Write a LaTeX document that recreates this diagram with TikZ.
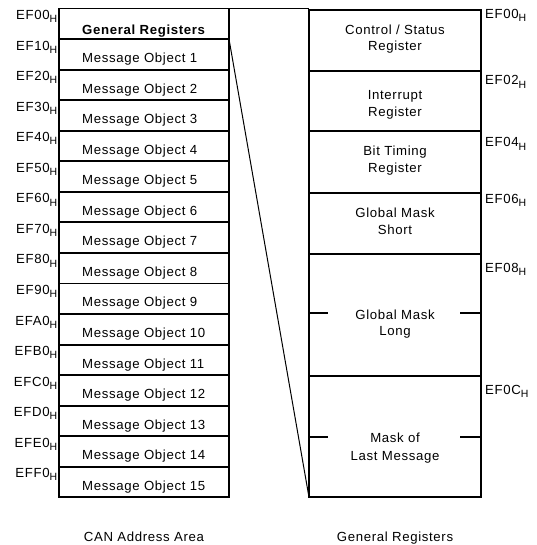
\documentclass[tikz,border=0pt]{standalone}
\usepackage{fontspec}
\setmainfont{Liberation Sans}[LetterSpace=5]
\newcommand\hsub{\raisebox{-3.2pt}{\fontsize{10.5}{10}\selectfont H}}
\begin{document}
\begin{tikzpicture}[x=1pt,y=-1pt,
  cell/.style={draw, line width=1.9pt, minimum width=170pt, minimum height=30.55pt, inner sep=0pt, outer sep=0pt, anchor=north west},
  rcell/.style={draw, line width=1.9pt, minimum width=172pt, inner sep=0pt, outer sep=0pt, anchor=north west},
  txt/.style={inner sep=0pt, font=\fontsize{13.2}{15}\selectfont},
  celltext/.style={txt, anchor=base west},
  ctext/.style={txt, anchor=base},
  addrL/.style={txt, anchor=base east},
  addrR/.style={txt, anchor=base west},
  funnel/.style={line width=1pt},
  tick/.style={line width=1.4pt}
]
\useasboundingbox (0,0) rectangle (536,545);
% left column
\foreach \i/\h in {0/0,1/1,2/2,3/3,4/4,5/5,6/6,7/7,8/8,9/9,10/A,11/B,12/C,13/D,14/E,15/F}{
  \node[cell] (L\i) at (59,{8.5+30.55*\i}) {};
  \node[addrL] (A\i) at (57.5,{8.5+30.55*\i+11}) {EF\h0\hsub};
}
\node[celltext] (T0) at (82,35) {\bfseries General Registers};
\foreach \i in {1,...,15}{
  \node[celltext] (T\i) at (82,{8.5+30.55*\i+23.5}) {Message Object \i};
}
% right column
\node[rcell, minimum height=61pt] (R0) at (309,10) {};
\node[rcell, minimum height=60pt] (R1) at (309,71) {};
\node[rcell, minimum height=61.7pt] (R2) at (309,131) {};
\node[rcell, minimum height=61.6pt] (R3) at (309,192.7) {};
\node[rcell, minimum height=121.7pt] (R4) at (309,254.3) {};
\node[rcell, minimum height=121.3pt] (R5) at (309,376) {};
% right texts
\node[ctext] (r0a) at (395,34.3) {Control / Status};
\node[ctext] (r0b) at (395,50.5) {Register};
\node[ctext] (r1a) at (395,100) {Interrupt};
\node[ctext] (r1b) at (395,116.5) {Register};
\node[ctext] (r2a) at (395,155.5) {Bit Timing};
\node[ctext] (r2b) at (395,172.5) {Register};
\node[ctext] (r3a) at (395,217.3) {Global Mask};
\node[ctext] (r3b) at (395,234) {Short};
\node[ctext] (r4a) at (395,319) {Global Mask};
\node[ctext] (r4b) at (395,335.5) {Long};
\node[ctext] (r5a) at (395,442.7) {Mask of};
\node[ctext] (r5b) at (395,460) {Last Message};
% right addresses
\node[addrR] (B0) at (485,18.5) {EF00\hsub};
\node[addrR] (B1) at (485,85) {EF02\hsub};
\node[addrR] (B2) at (485,147) {EF04\hsub};
\node[addrR] (B3) at (485,203.3) {EF06\hsub};
\node[addrR] (B4) at (485,272.7) {EF08\hsub};
\node[addrR] (B5) at (485,394) {EF0C\hsub};
% ticks
\draw[line width=2.2pt] (R4.west |- 0,313) -- (328,313);
\draw[line width=2.2pt] (460,313) -- (R4.east |- 0,313);
\draw[tick] (R5.west |- 0,437) -- (328,437);
\draw[tick] (460,437) -- (R5.east |- 0,437);
% funnel
\draw[line width=1.9pt] (L0.north east) -- (L0.north east -| R0.west);
\draw[funnel] (L0.south east) -- (R5.south west);
% captions
\node[ctext] (C1) at (144,541) {CAN Address Area};
\node[ctext] (C2) at (395,541) {General Registers};
\end{tikzpicture}
\end{document}
